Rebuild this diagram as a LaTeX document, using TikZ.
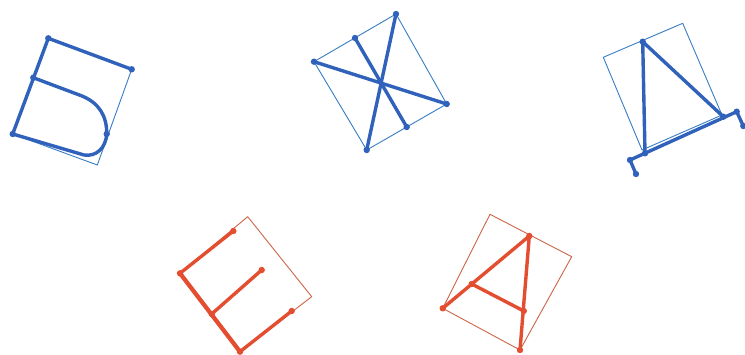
\documentclass[tikz,border=0pt]{standalone}
\definecolor{bthick}{RGB}{48,98,188}
\definecolor{bthin}{RGB}{55,125,195}
\definecolor{rthick}{RGB}{228,78,48}
\definecolor{rthin}{RGB}{205,100,72}
\tikzset{
  bstroke/.style={draw=bthick,line width=3.4pt,line cap=round,line join=round},
  bframe/.style={draw=bthin,line width=0.9pt,line join=round},
  rstroke/.style={draw=rthick,line width=3.4pt,line cap=round,line join=round},
  rframe/.style={draw=rthin,line width=0.9pt,line join=round},
  bdot/.style={fill=bthick,draw=none},
  rdot/.style={fill=rthick,draw=none}
}
\begin{document}
\begin{tikzpicture}[x=1pt,y=-1pt]
\useasboundingbox (0,0) rectangle (745,355);
% ---------- glyph 1 ----------
\coordinate (a1) at (48.3,38.3);
\coordinate (b1) at (131.7,69.3);
\coordinate (f1) at (97.3,165);
\coordinate (d1) at (12.7,134);
\coordinate (c1) at (33.3,77.7);
\coordinate (e1) at (106.7,134);
\coordinate (g1) at (82,96);
\coordinate (h1) at (84,155);
\draw[bframe] (a1) -- (b1) -- (f1) -- (d1) -- cycle;
\draw[bstroke] (b1) -- (a1) -- (d1);
\draw[bstroke] (c1) -- (g1) .. controls (99,103) and (107,116) .. (e1)
  .. controls (106,148) and (96,157) .. (h1) -- (d1);
\foreach \p in {a1,b1,c1,d1,e1} \fill[bdot] (\p) circle (3.2pt);
% ---------- glyph 2 ----------
\coordinate (t2) at (396,14);
\coordinate (l2) at (314,61.7);
\coordinate (r2) at (446.7,104);
\coordinate (b2) at (366.7,150);
\coordinate (m2) at (355,38);
\coordinate (n2) at (406.7,127);
\draw[bframe] (l2) -- (t2) -- (r2) -- (b2) -- cycle;
\draw[bstroke] (t2) -- (b2);
\draw[bstroke] (l2) -- (r2);
\draw[bstroke] (m2) -- (n2);
\foreach \p in {t2,l2,r2,b2,m2,n2} \fill[bdot] (\p) circle (3.2pt);
% ---------- glyph 3 ----------
\coordinate (tl3) at (603.3,57.3);
\coordinate (tr3) at (682.7,23.3);
\coordinate (br3) at (722,115);
\coordinate (bl3) at (642,150);
\coordinate (p3) at (642.7,41.7);
\coordinate (q3) at (645,153.3);
\coordinate (s3) at (723.3,116.7);
\coordinate (le3) at (630,160);
\coordinate (lf3) at (636,174);
\coordinate (re3) at (736.7,111.7);
\coordinate (rf3) at (743.3,126);
\draw[bframe] (tl3) -- (tr3) -- (br3) -- (bl3) -- cycle;
\draw[bstroke] (q3) -- (p3) -- (s3);
\draw[bstroke] (lf3) -- (le3) -- (re3) -- (rf3);
\foreach \p in {p3,q3,s3,le3,lf3,re3,rf3} \fill[bdot] (\p) circle (3.2pt);
% ---------- glyph 4 ----------
\coordinate (tl4) at (180,273.3);
\coordinate (tr4) at (247.7,216.7);
\coordinate (br4) at (311.7,296.7);
\coordinate (bl4) at (240,351.7);
\coordinate (u4) at (233.3,231);
\coordinate (ml4) at (211.7,314);
\coordinate (mr4) at (261.7,270);
\coordinate (br4d) at (291.7,311);
\draw[rframe] (tl4) -- (tr4) -- (br4) -- (bl4) -- cycle;
\draw[rstroke] (u4) -- (tl4) -- (bl4) -- (br4d);
\draw[rstroke,line width=4.2pt] (tl4) -- (bl4);
\draw[rstroke] (ml4) -- (mr4);
\foreach \p in {tl4,u4,ml4,mr4,bl4,br4d} \fill[rdot] (\p) circle (3.2pt);
% ---------- glyph 5 ----------
\coordinate (tl5) at (490,214.3);
\coordinate (tr5) at (571.7,256.7);
\coordinate (br5) at (520,350);
\coordinate (bl5) at (442.7,308.3);
\coordinate (t5) at (529.3,236);
\coordinate (cl5) at (471.7,284);
\coordinate (cr5) at (523.8,311);
\draw[rframe] (tl5) -- (tr5) -- (br5) -- (bl5) -- cycle;
\draw[rstroke] (bl5) -- (t5) -- (br5);
\draw[rstroke] (cl5) -- (cr5);
\foreach \p in {bl5,t5,br5,cl5,cr5} \fill[rdot] (\p) circle (3.2pt);
\end{tikzpicture}
\end{document}
